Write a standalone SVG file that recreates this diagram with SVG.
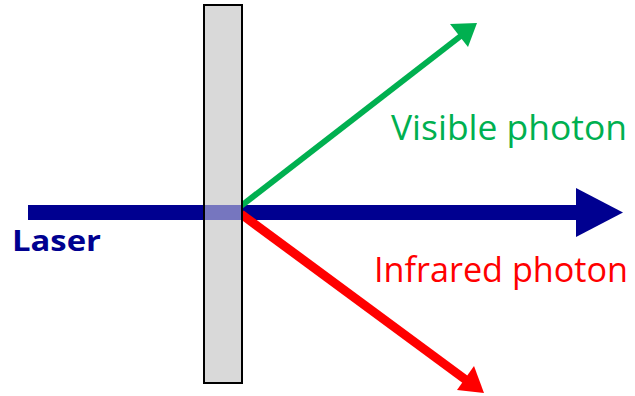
<svg xmlns="http://www.w3.org/2000/svg" width="635" height="396" viewBox="0 0 635 396">
<style>
.lbl{font-family:"Open Sans","Noto Sans",sans-serif;font-size:35px}
</style>
<rect width="635" height="396" fill="#fff"/>
<g id="connectors">
<g id="laser-beam">
<rect x="28" y="205" width="550" height="15" fill="#000090"/>
<polygon points="576,188 623,212.5 576,237" fill="#000090"/>
</g>
<g id="visible-beam">
<line x1="241" y1="206" x2="462" y2="35" stroke="#00b050" stroke-width="6"/>
<polygon points="477,23 468,47 450,24" fill="#00b050"/>
</g>
<g id="infrared-beam">
<line x1="241" y1="214" x2="466" y2="380" stroke="#ff0000" stroke-width="9"/>
<polygon points="484,393 457,390 474,366" fill="#ff0000"/>
</g>
</g>
<g id="plate">
<rect x="204" y="5" width="38" height="378" fill="#d9d9d9" stroke="#000" stroke-width="2"/>
<rect x="205" y="205" width="36" height="15" fill="#7676bf"/>
</g>
<g id="labels">
<text x="391" y="140" class="lbl" fill="#00b050" textLength="236" lengthAdjust="spacingAndGlyphs">Visible photon</text>
<text x="374" y="282" class="lbl" fill="#ff0000" textLength="254" lengthAdjust="spacingAndGlyphs">Infrared photon</text>
<text x="12" y="251" font-family="Open Sans, sans-serif" font-weight="bold" font-size="29" fill="#000090" textLength="89" lengthAdjust="spacingAndGlyphs">Laser</text>
</g>
</svg>
